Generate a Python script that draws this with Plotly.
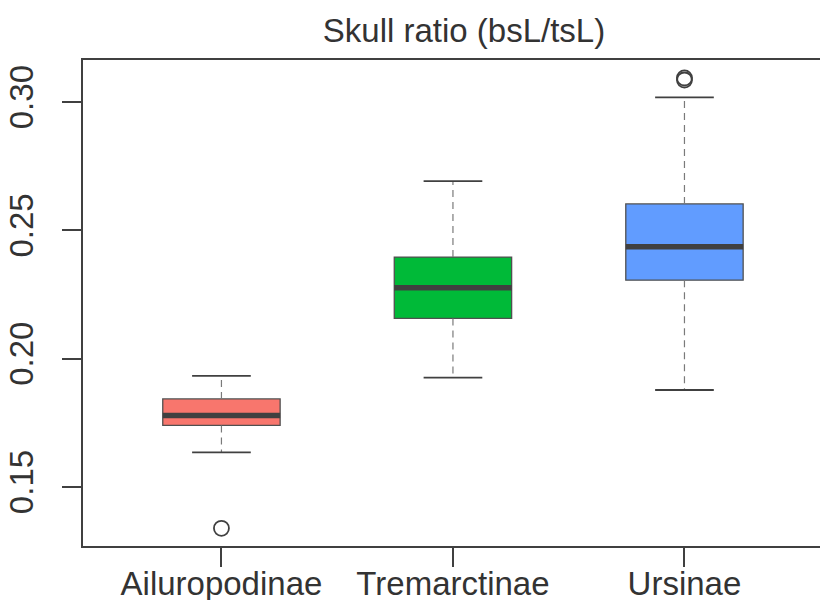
import plotly.graph_objects as go

categories = ["Ailuropodinae", "Tremarctinae", "Ursinae"]
lower_whisker = [0.1635, 0.1926, 0.1878]
q1 = [0.1740, 0.2157, 0.2306]
median = [0.1779, 0.2276, 0.2436]
q3 = [0.1843, 0.2396, 0.2603]
upper_whisker = [0.1933, 0.2692, 0.3018]
outlier_group = [0, 2, 2]
outlier_value = [0.1339, 0.3094, 0.3086]
colors = ["#F8766D", "#00BA38", "#619CFF"]
y_ticks = [0.15, 0.20, 0.25, 0.30]

box_w = 0.507
cap_w = box_w / 2
dark = "#404040"

fig = go.Figure()

for i, cat in enumerate(categories):
    fig.add_trace(go.Box(
        x=[i], q1=[q1[i]], median=[median[i]], q3=[q3[i]],
        lowerfence=[q1[i]], upperfence=[q3[i]],
        width=box_w, fillcolor=colors[i],
        line=dict(color="#505050", width=1.3),
        boxpoints=False, hoverinfo="skip", showlegend=False,
    ))
    # whiskers (dashed)
    for a, b in ((q3[i], upper_whisker[i]), (q1[i], lower_whisker[i])):
        fig.add_trace(go.Scatter(
            x=[i, i], y=[a, b], mode="lines",
            line=dict(color="#7a7a7a", width=1.2, dash="7px,5px"),
            hoverinfo="skip", showlegend=False,
        ))
    # caps
    for v in (upper_whisker[i], lower_whisker[i]):
        fig.add_trace(go.Scatter(
            x=[i - cap_w / 2, i + cap_w / 2], y=[v, v], mode="lines",
            line=dict(color=dark, width=1.8),
            hoverinfo="skip", showlegend=False,
        ))
    # median
    fig.add_trace(go.Scatter(
        x=[i - box_w / 2, i + box_w / 2], y=[median[i], median[i]], mode="lines",
        line=dict(color=dark, width=5.5),
        hoverinfo="skip", showlegend=False,
    ))

fig.add_trace(go.Scatter(
    x=outlier_group, y=outlier_value, mode="markers",
    marker=dict(symbol="circle-open", size=15, color=dark, line=dict(width=1.8, color=dark)),
    hoverinfo="skip", showlegend=False,
))

font = dict(family="Liberation Sans, Arial, sans-serif", size=33, color="#333333")

# page body has an 8px default margin, so the figure is 820x592
W, H = 820, 592
fig.update_layout(
    width=W, height=H,
    margin=dict(l=75, r=0, t=52, b=54),
    paper_bgcolor="white", plot_bgcolor="white",
    font=font,
    title=dict(text="Skull ratio (bsL/tsL)", x=(464 - 8) / W, xanchor="center",
               y=1 - 22 / H, yanchor="middle", font=font),
    xaxis=dict(
        range=[-0.598, 2.62], tickmode="array", tickvals=list(range(len(categories))),
        ticktext=categories, ticks="outside", ticklen=19, tickwidth=1.5, tickcolor=dark,
        showline=True, linecolor=dark, linewidth=1.5, mirror=True,
        showgrid=False, zeroline=False, ticklabelstandoff=-11, automargin=False,
    ),
    yaxis=dict(
        range=[0.1270, 0.3164], tickmode="array", tickvals=y_ticks,
        ticktext=[f"{v:.2f}" for v in y_ticks], tickangle=-90,
        ticks="outside", ticklen=19, tickwidth=1.5, tickcolor=dark,
        showline=True, linecolor=dark, linewidth=1.5, mirror=False,
        showgrid=False, zeroline=False, ticklabelstandoff=16, automargin=False,
    ),
)

fig.write_html("out.html")
